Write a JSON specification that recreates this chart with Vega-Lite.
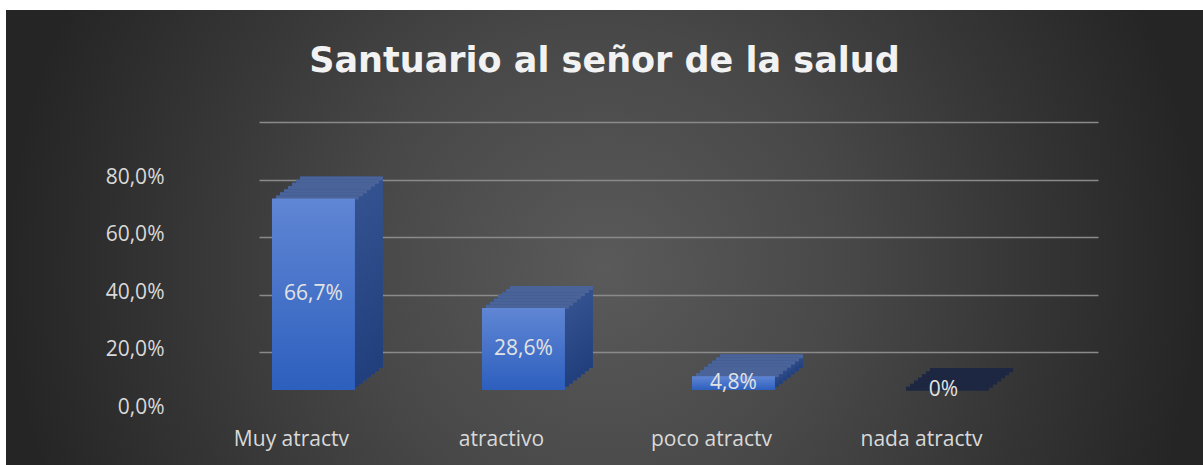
{
  "$schema": "https://vega.github.io/schema/vega-lite/v6.json",
  "width": 1197,
  "height": 455,
  "autosize": {"type": "none"},
  "padding": {"left": 6, "top": 10, "right": 0, "bottom": 0},
  "background": "white",
  "config": {
    "locale": {"number": {"decimal": ",", "thousands": ".", "grouping": [3], "currency": ["", " €"]}},
    "view": {"stroke": null},
    "font": "Open Sans"
  },
  "view": {
    "stroke": null,
    "fill": {
      "gradient": "radial",
      "x1": 0.5, "y1": 0.527, "r1": 0,
      "x2": 0.5, "y2": 0.527, "r2": 0.5,
      "stops": [
        {"offset": 0, "color": "#5a5a5a"},
        {"offset": 0.4, "color": "#484848"},
        {"offset": 0.7, "color": "#363636"},
        {"offset": 1, "color": "#252525"}
      ]
    }
  },
  "title": {
    "text": "Santuario al señor de la salud",
    "font": "DejaVu Sans",
    "fontSize": 35,
    "fontWeight": "bold",
    "color": "#f2f2f2",
    "anchor": "middle",
    "frame": "group",
    "baseline": "alphabetic",
    "offset": -97
  },
  "data": {
    "values": [
      {"categoria": "Muy atractv", "value": 0.667},
      {"categoria": "atractivo", "value": 0.286},
      {"categoria": "poco atractv", "value": 0.048},
      {"categoria": "nada atractv", "value": 0}
    ]
  },
  "encoding": {
    "x": {
      "field": "categoria",
      "type": "nominal",
      "sort": null,
      "scale": {"range": [253, 1092], "paddingInner": 0.605, "paddingOuter": 0.3, "align": 0.103},
      "axis": {
        "title": null, "domain": false, "ticks": false, "grid": false,
        "labelFont": "Open Sans", "labelFontSize": 21, "labelColor": "#d9d9d9",
        "labelOffset": -22, "labelPadding": 0, "labelBaseline": "alphabetic",
        "labelAngle": 0, "offset": -20
      }
    }
  },
  "layer": [
    {
      "encoding": {
        "y": {
          "field": "value",
          "type": "quantitative",
          "scale": {"domain": [0, 0.8], "range": [380, 150.4], "nice": false},
          "axis": {
            "values": [0, 0.2, 0.4, 0.6, 0.8],
            "format": ".1%",
            "title": null, "domain": false, "ticks": false, "grid": true,
            "gridColor": "#8a8a8a", "gridWidth": 1.4,
            "tickOffset": -38, "labelOffset": 55,
            "labelFont": "Open Sans", "labelFontSize": 21, "labelColor": "#d9d9d9",
            "labelPadding": 2, "offset": -160
          }
        }
      },
      "layer": [
        {"mark": {"type": "bar", "opacity": 1, "xOffset": 28, "yOffset": -22, "color": {"gradient": "linear", "x1": 0, "y1": 0, "x2": 0, "y2": 1, "stops": [{"offset": 0, "color": "#34528f"}, {"offset": 1, "color": "#213f7d"}]}}},
        {"mark": {"type": "tick", "opacity": 1, "size": 83, "thickness": 4, "xOffset": 28, "yOffset": -20}, "encoding": {"color": {"condition": {"test": "datum.value == 0", "value": "#1d2742"}, "value": "#4a6399"}}},
        {"mark": {"type": "bar", "opacity": 1, "xOffset": 24, "yOffset": -18.86, "color": {"gradient": "linear", "x1": 0, "y1": 0, "x2": 0, "y2": 1, "stops": [{"offset": 0, "color": "#34528f"}, {"offset": 1, "color": "#213f7d"}]}}},
        {"mark": {"type": "tick", "opacity": 1, "size": 83, "thickness": 4, "xOffset": 24, "yOffset": -16.86}, "encoding": {"color": {"condition": {"test": "datum.value == 0", "value": "#1d2742"}, "value": "#4a6399"}}},
        {"mark": {"type": "bar", "opacity": 1, "xOffset": 20, "yOffset": -15.71, "color": {"gradient": "linear", "x1": 0, "y1": 0, "x2": 0, "y2": 1, "stops": [{"offset": 0, "color": "#34528f"}, {"offset": 1, "color": "#213f7d"}]}}},
        {"mark": {"type": "tick", "opacity": 1, "size": 83, "thickness": 4, "xOffset": 20, "yOffset": -13.71}, "encoding": {"color": {"condition": {"test": "datum.value == 0", "value": "#1d2742"}, "value": "#4a6399"}}},
        {"mark": {"type": "bar", "opacity": 1, "xOffset": 16, "yOffset": -12.57, "color": {"gradient": "linear", "x1": 0, "y1": 0, "x2": 0, "y2": 1, "stops": [{"offset": 0, "color": "#34528f"}, {"offset": 1, "color": "#213f7d"}]}}},
        {"mark": {"type": "tick", "opacity": 1, "size": 83, "thickness": 4, "xOffset": 16, "yOffset": -10.57}, "encoding": {"color": {"condition": {"test": "datum.value == 0", "value": "#1d2742"}, "value": "#4a6399"}}},
        {"mark": {"type": "bar", "opacity": 1, "xOffset": 12, "yOffset": -9.43, "color": {"gradient": "linear", "x1": 0, "y1": 0, "x2": 0, "y2": 1, "stops": [{"offset": 0, "color": "#34528f"}, {"offset": 1, "color": "#213f7d"}]}}},
        {"mark": {"type": "tick", "opacity": 1, "size": 83, "thickness": 4, "xOffset": 12, "yOffset": -7.43}, "encoding": {"color": {"condition": {"test": "datum.value == 0", "value": "#1d2742"}, "value": "#4a6399"}}},
        {"mark": {"type": "bar", "opacity": 1, "xOffset": 8, "yOffset": -6.29, "color": {"gradient": "linear", "x1": 0, "y1": 0, "x2": 0, "y2": 1, "stops": [{"offset": 0, "color": "#34528f"}, {"offset": 1, "color": "#213f7d"}]}}},
        {"mark": {"type": "tick", "opacity": 1, "size": 83, "thickness": 4, "xOffset": 8, "yOffset": -4.29}, "encoding": {"color": {"condition": {"test": "datum.value == 0", "value": "#1d2742"}, "value": "#4a6399"}}},
        {"mark": {"type": "bar", "opacity": 1, "xOffset": 4, "yOffset": -3.14, "color": {"gradient": "linear", "x1": 0, "y1": 0, "x2": 0, "y2": 1, "stops": [{"offset": 0, "color": "#34528f"}, {"offset": 1, "color": "#213f7d"}]}}},
        {"mark": {"type": "tick", "opacity": 1, "size": 83, "thickness": 4, "xOffset": 4, "yOffset": -1.14}, "encoding": {"color": {"condition": {"test": "datum.value == 0", "value": "#1d2742"}, "value": "#4a6399"}}},
        {"mark": {"type": "bar", "opacity": 1, "color": {"gradient": "linear", "x1": 0, "y1": 0, "x2": 0, "y2": 1, "stops": [{"offset": 0, "color": "#6086d4"}, {"offset": 1, "color": "#2d5fbe"}]}}}
      ]
    },
    {
      "mark": {"type": "text", "font": "Open Sans", "fontSize": 21, "color": "#e3e3e3", "baseline": "middle"},
      "encoding": {
        "y": {"field": "value", "type": "quantitative", "scale": {"domain": [0, 1.6], "range": [380, 150.4], "nice": false}, "axis": null},
        "text": {"field": "value", "type": "quantitative", "format": ".1~%"}
      }
    }
  ],
  "resolve": {"scale": {"y": "independent"}}
}
